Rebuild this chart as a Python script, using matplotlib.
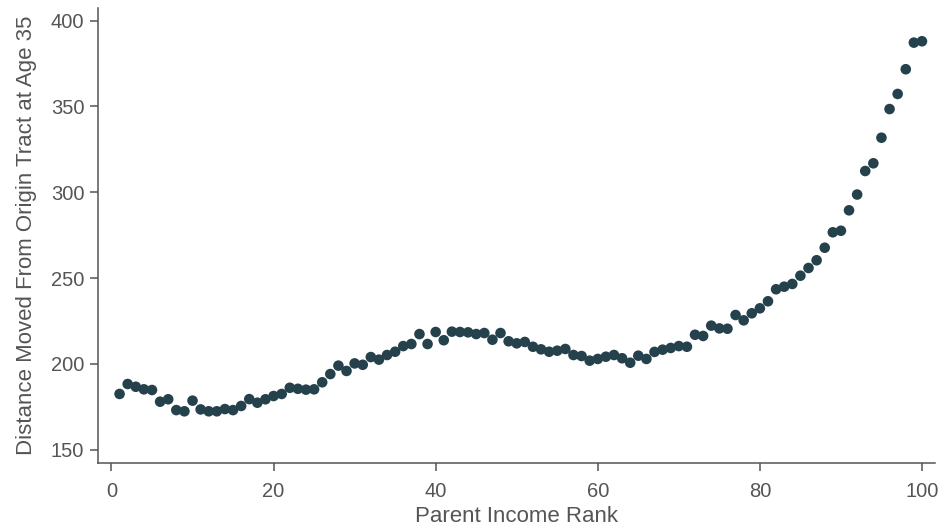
import matplotlib
matplotlib.use("Agg")
import matplotlib.pyplot as plt

parent_rank = list(range(1, 101))
distance = [
    182.5, 188.3, 186.7, 185.2, 184.8, 178.0, 179.4, 173.1, 172.4, 178.6,
    173.5, 172.4, 172.4, 173.7, 173.1, 175.5, 179.5, 177.4, 179.4, 181.3,
    182.5, 186.1, 185.5, 185.0, 185.2, 189.3, 194.1, 199.0, 195.9, 200.3,
    199.5, 204.0, 202.5, 205.2, 207.1, 210.4, 211.6, 217.4, 211.6, 218.6,
    213.8, 218.8, 218.6, 218.4, 217.4, 218.0, 214.1, 218.0, 213.2, 212.0,
    212.8, 210.0, 208.5, 207.1, 207.7, 208.7, 205.2, 204.6, 201.9, 202.9,
    204.2, 205.2, 203.3, 200.7, 204.8, 202.9, 207.0, 208.3, 209.3, 210.4,
    210.0, 217.0, 216.3, 222.3, 220.7, 220.5, 228.5, 225.4, 229.5, 232.4,
    236.5, 243.5, 245.0, 246.6, 251.4, 255.9, 260.4, 267.7, 276.7, 277.6,
    289.5, 298.7, 312.4, 316.9, 331.8, 348.5, 357.3, 371.7, 387.2, 388.0,
]
x_ticks = [0, 20, 40, 60, 80, 100]
y_ticks = [150, 200, 250, 300, 350, 400]

plt.rcParams['font.family'] = ['Liberation Sans', 'DejaVu Sans']
gray = '#555555'

fig = plt.figure(figsize=(9.43, 5.29), dpi=100)
ax = fig.add_axes([0.1042, 0.1242, 0.8870, 0.8601])
ax.scatter(parent_rank, distance, s=58, color='#24414c', edgecolors='none', zorder=3)

ax.set_xlim(-1.63, 101.57)
ax.set_ylim(142.1, 407.2)
ax.set_xticks(x_ticks)
ax.set_yticks(y_ticks)

for side in ['top', 'right']:
    ax.spines[side].set_visible(False)
for side in ['left', 'bottom']:
    ax.spines[side].set_color(gray)
    ax.spines[side].set_linewidth(1.1)

ax.tick_params(axis='both', direction='out', length=5.8, width=1.1, color=gray,
               labelcolor=gray, labelsize=14.5)
ax.tick_params(axis='y', pad=4.3)
ax.tick_params(axis='x', pad=7.5)

ax.set_xlabel('Parent Income Rank', fontsize=16, color=gray, labelpad=4)
ax.set_ylabel('Distance Moved From Origin Tract at Age 35', fontsize=16, color=gray, labelpad=10)

fig.savefig('out.png', dpi=100)
